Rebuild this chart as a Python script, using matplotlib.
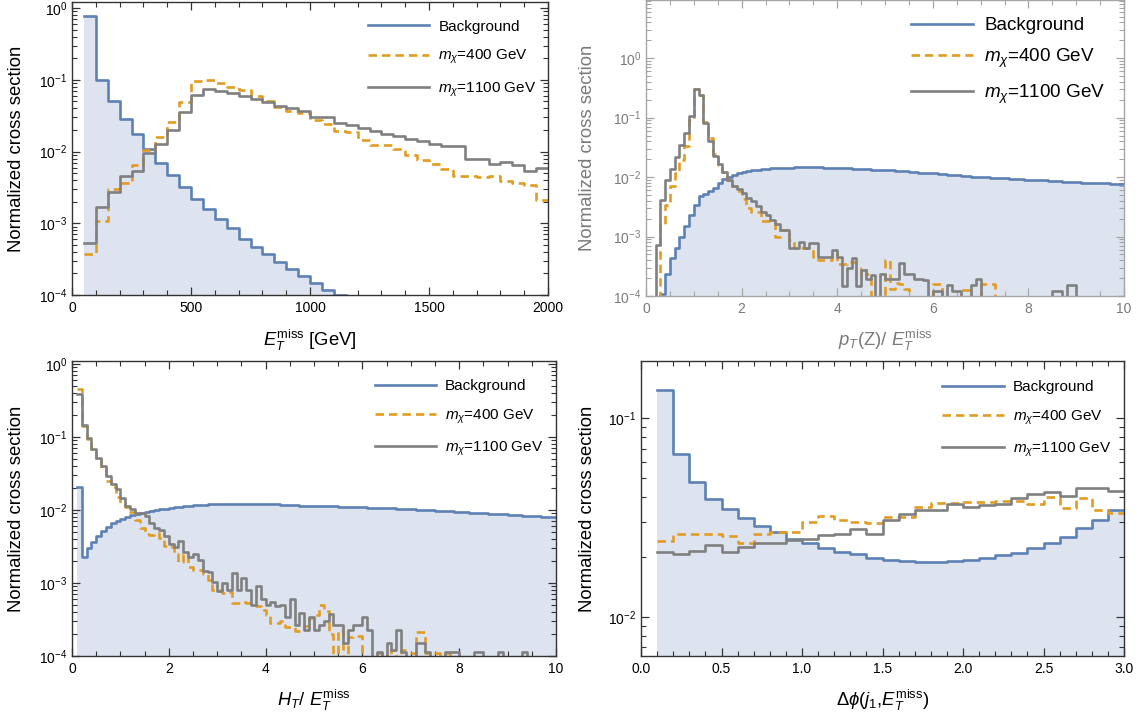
import numpy as np
import matplotlib
matplotlib.use("Agg")
import matplotlib.pyplot as plt
from matplotlib.ticker import MultipleLocator, LogLocator, NullFormatter

plt.rcParams['font.family'] = ['Liberation Sans', 'DejaVu Sans']
plt.rcParams['mathtext.fontset'] = 'custom'
plt.rcParams['mathtext.rm'] = 'Liberation Sans'
plt.rcParams['mathtext.it'] = 'Liberation Sans:italic'
plt.rcParams['mathtext.bf'] = 'Liberation Sans:bold'

Z = 1e-7  # empty bin (below the axis)

# ---- panel 1: missing ET, 50 GeV bins starting at 50 GeV
met_bkg = [0.79, 0.101, 0.0503, 0.0289, 0.0175, 0.0110, 0.00695, 0.00477, 0.00321, 0.00221,
           0.00160, 0.00116, 0.000851, 0.000611, 0.000468, 0.000369, 0.000292, 0.000231,
           0.000182, 0.000146, 0.000116, 0.0000985]
met_400 = [0.000373, 0.00109, 0.00305, 0.00366, 0.00645, 0.0104, 0.0159, 0.0257, 0.0488, 0.098,
           0.101, 0.0908, 0.0798, 0.0717, 0.0592, 0.0503, 0.0420, 0.037, 0.034, 0.028,
           0.0246, 0.0192, 0.0186, 0.0147, 0.0122, 0.0122, 0.011, 0.0091, 0.0077, 0.0067,
           0.0057, 0.0045, 0.0045, 0.0044, 0.0045, 0.00385, 0.0037, 0.00347, 0.00214]
met_1100 = [0.000532, 0.00169, 0.00274, 0.00453, 0.00543, 0.00957, 0.0129, 0.0199, 0.0354, 0.0611,
            0.0748, 0.0695, 0.0659, 0.0592, 0.0543, 0.0488, 0.0429, 0.040, 0.037, 0.0305,
            0.0305, 0.025, 0.0238, 0.0214, 0.0192, 0.0177, 0.0164, 0.0150, 0.0139, 0.0129,
            0.0119, 0.0119, 0.0079, 0.0079, 0.0068, 0.0072, 0.0066, 0.0053, 0.0059]

# ---- panel 2: pT(Z)/MET, 0.1 bins starting at 0
zr_bkg = [Z, Z, Z,
          1.1e-4, 2.3e-4, 4.3e-4, 6.4e-4, 1.0e-3, 1.48e-3, 2.33e-3,
          3.44e-3, 4.76e-3, 5.28e-3, 5.78e-3, 6.6e-3, 8.0e-3, 9.3e-3, 0.0101, 0.0110, 0.0118,
          0.0123, 0.0127, 0.0131, 0.0134, 0.0136, 0.0138, 0.0140, 0.0141, 0.0142, 0.0143,
          0.0144, 0.0145, 0.0145, 0.0145, 0.0146, 0.0145, 0.0145, 0.0144, 0.0144, 0.0143,
          0.0142, 0.0141, 0.0140, 0.0139, 0.0138, 0.0137, 0.0135, 0.0134, 0.0133, 0.0132,
          0.0131, 0.0129, 0.0128, 0.0126, 0.0125, 0.0123, 0.0121, 0.0119, 0.0117, 0.0116,
          0.0115, 0.0113, 0.0112, 0.0110, 0.0108, 0.0107, 0.0105, 0.0104, 0.0102, 0.0101,
          0.0100, 0.0099, 0.0098, 0.0097, 0.0096, 0.0095, 0.0094, 0.0093, 0.0092, 0.0091,
          0.0090, 0.0089, 0.0088, 0.0088, 0.0087, 0.0086, 0.0085, 0.0084, 0.0083, 0.0083,
          0.0082, 0.0081, 0.0080, 0.0080, 0.0079, 0.0078, 0.0078, 0.0077, 0.0077, 0.0076]
zr_400 = [Z, Z, Z,
          1.6e-3, 3.4e-3, 7.0e-3, 1.15e-2, 1.9e-2, 3.3e-2, 9.0e-2,
          0.30, 0.24, 0.085, 0.045, 0.024, 0.016, 0.012, 0.0090, 0.0070, 0.0058,
          0.0043, 0.0030, 0.0026, 0.0026, 0.0018, 0.0018, 0.0018, 0.0010, 0.0013, 0.0013,
          8.8e-4, 6.4e-4, 6.4e-4, 6.4e-4, 6.4e-4, 4.6e-4, 4.1e-4, 4.1e-4, 4.1e-4, 5.2e-4,
          3.4e-4, 3.4e-4, 3.8e-4, 3.8e-4, 2.1e-4, 3.0e-4, 2.3e-4, Z, Z, Z,
          4.1e-4, 1.3e-4, 1.67e-4, 1.6e-4, 1.3e-4, Z, Z, Z, Z, Z,
          1.6e-4, 1.6e-4, Z, Z, Z, Z, 1.25e-4, 1.25e-4, Z, Z,
          1.6e-4, 1.6e-4, 1.6e-4, Z, Z, Z, Z, Z, Z, Z,
          Z, Z, Z, Z, Z, Z, Z, Z, Z, Z,
          Z, Z, Z, Z, Z, Z, Z, Z, Z, Z]
zr_1100 = [Z, Z,
           7.1e-4, 4.07e-3, 9.1e-3, 0.0138, 0.022, 0.0341, 0.0558, 0.107,
           0.30, 0.238, 0.0824, 0.0404, 0.0225, 0.0163, 0.0121, 0.0091, 0.0070, 0.0062,
           0.0054, 0.0045, 0.0039, 0.0033, 0.0026, 0.0023, 0.0019, 0.0016, 0.0013, 0.0013,
           6.4e-4, 6.4e-4, 8.2e-4, 6.4e-4, 7.7e-4, 7.7e-4, 4.6e-4, 4.6e-4, 4.6e-4, 6.0e-4,
           4.6e-4, 1.5e-4, 3.0e-4, 4.3e-4, 1.5e-4, 2.7e-4, 1.9e-4, 2.26e-4, Z, 2.35e-4,
           1.93e-4, 1.93e-4, 1.93e-4, 3.55e-4, 2.35e-4, 2.35e-4, 1.93e-4, 1.93e-4, 1.85e-4, Z,
           1.2e-4, 1.2e-4, Z, 1.53e-4, 1.2e-4, 1.2e-4, Z, Z, 1.53e-4, 1.93e-4,
           Z, Z, Z, Z, Z, Z, Z, Z, Z, Z,
           Z, Z, Z, Z, Z, 1.2e-4, 1.2e-4, Z, 1.53e-4, 1.53e-4,
           Z, Z, Z, Z, Z, Z, Z, Z, Z, Z]

# ---- panel 3: HT/MET, 0.1 bins starting at 0.1
ht_bkg = [0.0209, 0.00225, 0.00299, 0.00368, 0.00440, 0.00515, 0.0059, 0.00657, 0.00707,
          0.0076, 0.0081, 0.00855, 0.0088, 0.0092, 0.0095, 0.0097, 0.0100, 0.0102, 0.0104,
          0.0107, 0.0109, 0.0111, 0.0113, 0.0114, 0.0116, 0.0117, 0.0118, 0.0119, 0.0120,
          0.0121, 0.0122, 0.0122, 0.0122, 0.0122, 0.0122, 0.0122, 0.0122, 0.0122, 0.0121,
          0.0121, 0.0120, 0.0119, 0.0118, 0.0118, 0.0117, 0.0116, 0.0115, 0.0115, 0.0114,
          0.0114, 0.0113, 0.0113, 0.0112, 0.0112, 0.0111, 0.0111, 0.0110, 0.0110, 0.0110,
          0.0109, 0.0108, 0.0107, 0.0107, 0.0106, 0.0105, 0.0105, 0.0104, 0.0104, 0.0103,
          0.0102, 0.0101, 0.0100, 0.0099, 0.0099, 0.0098, 0.0097, 0.0096, 0.0096, 0.0095,
          0.0094, 0.0093, 0.0092, 0.0091, 0.0091, 0.0090, 0.0089, 0.0088, 0.0088, 0.0087,
          0.0086, 0.0085, 0.0085, 0.0084, 0.0083, 0.0082, 0.0082, 0.0081, 0.0080, 0.0080]
ht_400 = [0.45, 0.14, 0.095, 0.068, 0.049, 0.0372, 0.0252, 0.0209, 0.0153,
          0.0126, 0.0111, 0.0095, 0.0073, 0.0057, 0.0047, 0.0046, 0.0048, 0.0041, 0.0032,
          0.0031, 0.0025, 0.00195, 0.0025, 0.00166, 0.00149, 0.00149, 0.00134, 0.00109, 7.9e-4,
          7.9e-4, 7.2e-4, 7.5e-4, 5.4e-4, 5.4e-4, 5.5e-4, 5.4e-4, 5.1e-4, 4.8e-4, 4.3e-4,
          3.7e-4, 2.8e-4, 2.8e-4, 3.0e-4, 2.5e-4, 2.5e-4, 2.2e-4, 2.2e-4, 2.6e-4, 3.3e-4,
          3.6e-4, 5.0e-4, 4.2e-4, 2.0e-4, Z, 2.3e-4, Z, 1.8e-4, 1.9e-4, 1.9e-4,
          Z, Z, Z, 1.1e-4, Z, Z, 1.2e-4, Z, 1.2e-4, Z,
          1.1e-4, 2.1e-4, 2.1e-4, 1.1e-4, Z, 1.1e-4, Z, 1.1e-4, Z, Z,
          Z, Z, Z, Z, Z, Z, Z, Z, Z, Z,
          Z, Z, Z, Z, Z, Z, Z, Z, Z, Z]
ht_1100 = [0.384, 0.146, 0.096, 0.0678, 0.051, 0.040, 0.0295, 0.0227, 0.0192,
           0.0145, 0.0115, 0.0102, 0.0092, 0.0090, 0.0083, 0.0066, 0.0056, 0.0053, 0.0044,
           0.0034, 0.00315, 0.00376, 0.00269, 0.00229, 0.00247, 0.00207, 0.00146, 0.00143, 0.00104,
           7.8e-4, 1.0e-3, 8.0e-4, 1.36e-3, 8.0e-4, 1.16e-3, 8.0e-4, 5.0e-4, 9.0e-4, 6.0e-4,
           5.0e-4, 5.5e-4, 4.8e-4, 5.0e-4, 3.4e-4, 6.1e-4, 2.66e-4, 3.85e-4, 2.27e-4, 3.4e-4,
           2.3e-4, 2.66e-4, 3.05e-4, 3.76e-4, 2.66e-4, 2.66e-4, 1.52e-4, 2.3e-4, 2.66e-4, 2.66e-4,
           3.4e-4, 2.3e-4, Z, 1.15e-4, Z, 1.52e-4, 1.2e-4, 2.3e-4, 1.15e-4, Z,
           Z, 1.52e-4, 1.52e-4, 1.15e-4, Z, Z, Z, 1.15e-4, 1.15e-4, 1.15e-4,
           Z, Z, Z, 1.15e-4, 1.15e-4, Z, Z, Z, 1.15e-4, Z,
           Z, Z, Z, 1.15e-4, Z, Z, Z, Z, Z, Z]

# ---- panel 4: delta phi(j1, MET), 0.1 bins starting at 0.1
dphi_bkg = [0.139, 0.0659, 0.0478, 0.0391, 0.0348, 0.0313, 0.0286, 0.0266, 0.0246,
            0.0234, 0.0222, 0.0212, 0.0207, 0.0198, 0.0194, 0.0191, 0.0189, 0.0189, 0.0190,
            0.0193, 0.0197, 0.0204, 0.0210, 0.0221, 0.0236, 0.0253, 0.0279, 0.0307, 0.0344]
dphi_400 = [0.0241, 0.0260, 0.0260, 0.0260, 0.0254, 0.0236, 0.0262, 0.0268, 0.0266,
            0.0299, 0.0323, 0.0307, 0.0301, 0.0295, 0.0319, 0.0319, 0.0355, 0.0375, 0.0375,
            0.0379, 0.0379, 0.0383, 0.0383, 0.0369, 0.0399, 0.0354, 0.0397, 0.0344, 0.0334]
dphi_1100 = [0.0212, 0.0208, 0.0214, 0.0230, 0.0212, 0.0225, 0.0236, 0.0234, 0.0243,
             0.0247, 0.0258, 0.0260, 0.0275, 0.0262, 0.0307, 0.0329, 0.0344, 0.0344, 0.0369,
             0.0358, 0.0364, 0.0369, 0.0397, 0.0413, 0.0426, 0.0405, 0.0443, 0.0447, 0.0430]

labels = ['Background', r'$m_\chi$=400 GeV', r'$m_\chi$=1100 GeV']

BLUE = '#5e81b5'
FILL = '#dde3ef'
ORANGE = '#e19c24'
GREY = '#808080'

W, H = 1145, 720
fig = plt.figure(figsize=(W / 100, H / 100), dpi=100)


def box(left, right, top, bottom):
    return [left / W, 1 - bottom / H, (right - left) / W, (bottom - top) / H]


def edges_of(vals, start, width):
    return start + width * np.arange(len(vals) + 1)


def hist(ax, vals, start, width, **kw):
    e = edges_of(vals, start, width)
    y = np.append(vals, vals[-1])
    return ax.step(e, y, where='post', **kw)


def panel(pos, bkg, s400, s1100, start, width, sig_start=None, dark=True, legsize=11,
          leg_x=0.62, leg_y=0.94, handlelen=4.0, labelspace=0.75):
    ax = fig.add_axes(pos)
    if sig_start is None:
        sig_start = start
    e = edges_of(bkg, start, width)
    ax.fill_between(e, np.append(bkg, bkg[-1]), 1e-9, step='post', color=FILL, lw=0)
    l1, = hist(ax, bkg, start, width, color=BLUE, lw=1.9)
    l2, = hist(ax, s400, sig_start, width, color=ORANGE, lw=1.9, ls=(0, (3.2, 1.9)))
    l3, = hist(ax, s1100, sig_start, width, color=GREY, lw=1.9)
    ax.set_yscale('log')
    ax.yaxis.set_major_locator(LogLocator(base=10, numticks=12))
    ax.yaxis.set_minor_locator(LogLocator(base=10, subs=np.arange(2, 10), numticks=12))
    ax.yaxis.set_minor_formatter(NullFormatter())
    sc = '#333333' if dark else '#a6a6a6'
    tc = 'black' if dark else '#7a7a7a'
    for sp in ax.spines.values():
        sp.set_color(sc)
        sp.set_linewidth(1.0)
    ax.tick_params(which='both', direction='in', top=True, right=True, color=sc,
                   labelcolor=tc, labelsize=10)
    ax.tick_params(axis='x', which='both', pad=4.5)
    ax.tick_params(axis='y', which='both', pad=3.5)
    ax.tick_params(which='major', length=6, width=0.9)
    ax.tick_params(which='minor', length=3.5, width=0.8)
    ax.set_ylabel('Normalized cross section', fontsize=13.3, color=tc)
    ax.legend([l1, l2, l3], labels, loc='upper left', bbox_to_anchor=(leg_x, leg_y),
              frameon=False, fontsize=legsize, handlelength=handlelen,
              handletextpad=0.6, labelspacing=labelspace, borderpad=0, borderaxespad=0)
    return ax, tc


# top left
ax1, tc = panel(box(72, 548, 2, 295), met_bkg, met_400, met_1100, 50, 50,
                leg_x=0.622, leg_y=0.94, labelspace=0.95)
ax1.set_xlim(0, 2000)
ax1.set_ylim(1e-4, 1.22)
ax1.xaxis.set_major_locator(MultipleLocator(500))
ax1.xaxis.set_minor_locator(MultipleLocator(100))
ax1.set_xlabel(r'$E_T^{\rm miss}$ [GeV]', fontsize=13.3)

# top right
ax2, tc2 = panel(box(646, 1124, 0, 296), zr_bkg, zr_400, zr_1100, 0.0, 0.1, dark=False,
                 legsize=13.6, leg_x=0.554, leg_y=0.942, handlelen=3.3, labelspace=0.66)
ax2.set_xlim(0, 10)
ax2.set_ylim(1e-4, 9.5)
ax2.xaxis.set_major_locator(MultipleLocator(2))
ax2.xaxis.set_minor_locator(MultipleLocator(0.5))
ax2.set_xlabel(r'$p_T$(Z)/ $E_T^{\rm miss}$', fontsize=13.3, color=tc2)

# bottom left
ax3, _ = panel(box(72, 556, 361, 656), ht_bkg, ht_400, ht_1100, 0.1, 0.1,
               leg_x=0.625, leg_y=0.938, labelspace=0.92)
ax3.set_xlim(0, 10)
ax3.set_ylim(1e-4, 1.1)
ax3.xaxis.set_major_locator(MultipleLocator(2))
ax3.xaxis.set_minor_locator(MultipleLocator(0.5))
ax3.set_xlabel(r'$H_T$/ $E_T^{\rm miss}$', fontsize=13.3)

# bottom right
ax4, _ = panel(box(641, 1124, 361, 656), dphi_bkg, dphi_400, dphi_1100, 0.1, 0.1,
               leg_x=0.624, leg_y=0.935, labelspace=0.93)
ax4.set_xlim(0, 3.0)
ax4.set_ylim(0.00634, 0.194)
ax4.xaxis.set_major_locator(MultipleLocator(0.5))
ax4.xaxis.set_minor_locator(MultipleLocator(0.1))
ax4.xaxis.set_major_formatter(lambda v, p: f'{v:.1f}')
ax4.set_xlabel(r'$\Delta\phi(j_1$,$E_T^{\rm miss})$', fontsize=13.3)

# axis label placement (figure pixels -> axes fraction)
for ax, (l, r, t, b) in [(ax1, (72, 548, 2, 295)), (ax2, (646, 1124, 0, 296)),
                         (ax3, (72, 556, 361, 656)), (ax4, (641, 1124, 361, 656))]:
    ylab_x = 17 if l < 300 else 587
    ax.yaxis.set_label_coords((ylab_x - l) / (r - l), 0.5)
    ax.yaxis.label.set_verticalalignment('center')
    xlab_y = 340 if b < 400 else 700
    ax.xaxis.set_label_coords(0.5, (b - xlab_y) / (b - t))
    ax.xaxis.label.set_verticalalignment('center')

fig.savefig('out.png', dpi=100)
